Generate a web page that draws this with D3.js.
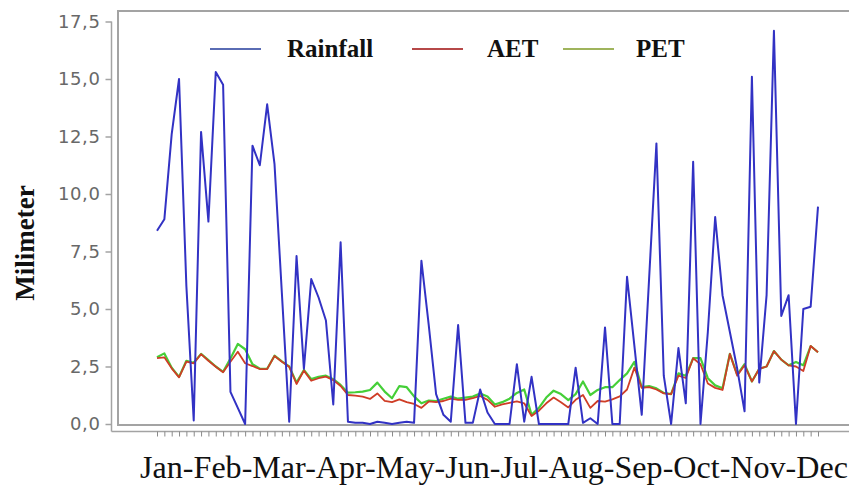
<!DOCTYPE html>
<html>
<head>
<meta charset="utf-8">
<script src="https://cdn.jsdelivr.net/npm/d3@7"></script>
<style>
  html, body { margin: 0; padding: 0; background: #fff; }
  svg { display: block; }
</style>
</head>
<body>
<div id="chart"></div>
<script>
const chartWidth = 849
const chartHeight = 489

// data: 91 four-day steps through the year
const rainfall = [
  8.4, 8.9, 12.6, 15.0, 6.0, 0.15, 12.7, 8.8, 15.3, 14.75,
  1.4, 0.7, 0.0, 12.1, 11.25, 13.9, 11.3, 5.7, 0.1, 7.3,
  2.4, 6.3, 5.5, 4.5, 0.85, 7.9, 0.1, 0.05, 0.05, 0.0,
  0.1, 0.05, 0.0, 0.05, 0.1, 0.05, 7.1, 4.3, 1.3, 0.4,
  0.1, 4.3, 0.05, 0.05, 1.5, 0.5, 0.0, 0.0, 0.0, 2.6,
  0.1, 2.05, 0.0, 0.0, 0.0, 0.0, 0.0, 2.45, 0.05, 0.25,
  0.0, 4.2, 0.0, 0.0, 6.4, 3.4, 0.4, 6.3, 12.2, 2.1,
  0.0, 3.3, 0.9, 11.4, 0.0, 4.0, 9.0, 5.6, 4.0, 2.4,
  0.55, 15.1, 1.8, 5.6, 17.1, 4.7, 5.6, 0.0, 5.0, 5.1,
  9.45,
]
const aet = [
  2.86, 2.9, 2.42, 2.03, 2.71, 2.64, 3.04, 2.75, 2.49, 2.25,
  2.71, 3.14, 2.64, 2.52, 2.39, 2.39, 2.96, 2.71, 2.49, 1.74,
  2.32, 1.88, 1.99, 2.06, 1.91, 1.65, 1.26, 1.23, 1.19, 1.09,
  1.33, 1.01, 0.95, 1.07, 0.95, 0.87, 0.7, 0.98, 0.95, 1.0,
  1.1, 1.05, 1.05, 1.12, 1.22, 1.05, 0.75, 0.85, 0.92, 0.98,
  0.9, 0.35, 0.58, 0.9, 1.15, 0.95, 0.72, 1.05, 1.26, 0.7,
  1.0, 0.97, 1.07, 1.2, 1.5, 2.45, 1.57, 1.6, 1.5, 1.33,
  1.3, 2.1, 2.0, 2.86, 2.6, 1.76, 1.57, 1.48, 3.05, 2.1,
  2.55, 1.85, 2.4, 2.5, 3.17, 2.8, 2.55, 2.5, 2.3, 3.39,
  3.12,
]
const pet = [
  2.9, 3.07, 2.45, 2.05, 2.75, 2.66, 3.05, 2.78, 2.5, 2.27,
  2.85, 3.48, 3.25, 2.6, 2.4, 2.4, 2.97, 2.72, 2.5, 1.8,
  2.35, 1.95, 2.05, 2.1, 1.95, 1.7, 1.36, 1.38, 1.41, 1.48,
  1.8, 1.41, 1.12, 1.65, 1.6, 1.2, 0.9, 1.02, 1.0, 1.1,
  1.19, 1.1, 1.15, 1.19, 1.33, 1.2, 0.85, 0.95, 1.1, 1.35,
  1.5, 0.4, 0.7, 1.15, 1.45, 1.3, 1.04, 1.3, 1.85, 1.26,
  1.48, 1.6, 1.6, 1.91, 2.2, 2.7, 1.6, 1.65, 1.55, 1.35,
  1.3, 2.2, 2.1, 2.86, 2.86, 1.99, 1.68, 1.55, 3.05, 2.15,
  2.6, 1.85, 2.4, 2.5, 3.17, 2.8, 2.55, 2.7, 2.55, 3.39,
  3.12,
]
const months = ['Jan', 'Feb', 'Mar', 'Apr', 'May', 'Jun', 'Jul', 'Aug', 'Sep', 'Oct', 'Nov', 'Dec']
const yTicks = [0, 2.5, 5, 7.5, 10, 12.5, 15, 17.5]

const series = [
  { name: 'PET', values: pet, line: '#45cf38', key: '#9fb45c', width: 2.2 },
  { name: 'AET', values: aet, line: '#cf3d26', key: '#b64848', width: 1.8 },
  { name: 'Rainfall', values: rainfall, line: '#3232c4', key: '#5a6cb4', width: 2 },
]
const legendOrder = ['Rainfall', 'AET', 'PET']

const boxLeft = 118
const boxTop = 11
const boxBottom = 425
const axisX = 111.5
const axisY = 431.5
const gridColor = '#a3a3a3'

const x = d3.scaleLinear().domain([0, rainfall.length - 1]).range([157, 818])
const y = d3.scaleLinear().domain([0, 17.5]).range([424, 21.5])

const locale = d3.formatLocale({ decimal: ',', thousands: '.', grouping: [3], currency: ['', ''] })
const fmt = locale.format('.1f')

const svg = d3
  .select('#chart')
  .append('svg')
  .attr('width', chartWidth)
  .attr('height', chartHeight)

// plot box (open on the right)
svg.append('path')
  .attr('d', `M${chartWidth},${boxTop}H${boxLeft}V${boxBottom}H${chartWidth}`)
  .attr('fill', 'none')
  .attr('stroke', gridColor)
  .attr('stroke-width', 2)

// y axis, pushed out of the box
const yAxis = svg.append('g')
  .attr('transform', `translate(${axisX},0)`)
  .call(d3.axisLeft(y).tickValues(yTicks).tickFormat(fmt).tickSize(6).tickPadding(5))
yAxis.select('.domain').attr('stroke', gridColor).attr('stroke-width', 1.5)
  .attr('d', `M0,${y(17.5)}V${axisY}`)
yAxis.selectAll('.tick line').attr('stroke', gridColor).attr('stroke-width', 1.5)
yAxis.selectAll('.tick text')
  .attr('fill', '#686868')
  .style('font-family', '"DejaVu Sans", Verdana, sans-serif')
  .style('font-size', '18px')
  .style('letter-spacing', '0.6px')

// x axis with one tick per step, no labels
const xAxis = svg.append('g')
  .attr('transform', `translate(0,${axisY})`)
  .call(d3.axisBottom(x).tickValues(d3.range(rainfall.length)).tickFormat('').tickSize(5).tickSizeOuter(0))
xAxis.select('.domain').attr('stroke', gridColor).attr('stroke-width', 1.5)
  .attr('d', `M${axisX},0H${chartWidth}`)
xAxis.selectAll('.tick line').attr('stroke', '#8a8a8a').attr('stroke-width', 1)

// lines
const line = d3.line().x((d, i) => x(i)).y(d => y(d))
svg.append('g')
  .selectAll('path')
  .data(series)
  .enter()
  .append('path')
  .attr('d', d => line(d.values))
  .attr('fill', 'none')
  .attr('stroke', d => d.line)
  .attr('stroke-width', d => d.width)
  .attr('stroke-linejoin', 'round')

// legend
const legendPos = { Rainfall: [210, 287], AET: [412, 487], PET: [563, 636] }
const legend = svg.append('g')
legendOrder.forEach(name => {
  const s = series.find(d => d.name === name)
  const [lx, tx] = legendPos[name]
  legend.append('line')
    .attr('x1', lx).attr('x2', lx + 51)
    .attr('y1', 49).attr('y2', 49)
    .attr('stroke', s.key)
    .attr('stroke-width', 2)
  legend.append('text')
    .attr('x', tx).attr('y', 57)
    .text(name)
    .style('font-family', '"Liberation Serif", "Times New Roman", serif')
    .style('font-weight', 'bold')
    .style('font-size', '25px')
    .attr('fill', '#111')
})

// axis titles
const xTitle = svg.append('text')
  .attr('x', 494).attr('y', 478)
  .attr('text-anchor', 'middle')
  .text(months.join('-'))
  .style('font-family', '"Liberation Serif", "Times New Roman", serif')
  .style('font-size', '27px')
  .attr('fill', '#111')
// fit month line to the width seen in the picture
const wanted = 708
const got = xTitle.node().getComputedTextLength()
xTitle.style('font-size', (27 * wanted / got).toFixed(2) + 'px')

svg.append('text')
  .attr('transform', 'translate(34,243) rotate(-90)')
  .attr('text-anchor', 'middle')
  .text('Milimeter')
  .style('font-family', '"Liberation Serif", "Times New Roman", serif')
  .style('font-weight', 'bold')
  .style('font-size', '27px')
  .attr('fill', '#111')
</script>
</body>
</html>
